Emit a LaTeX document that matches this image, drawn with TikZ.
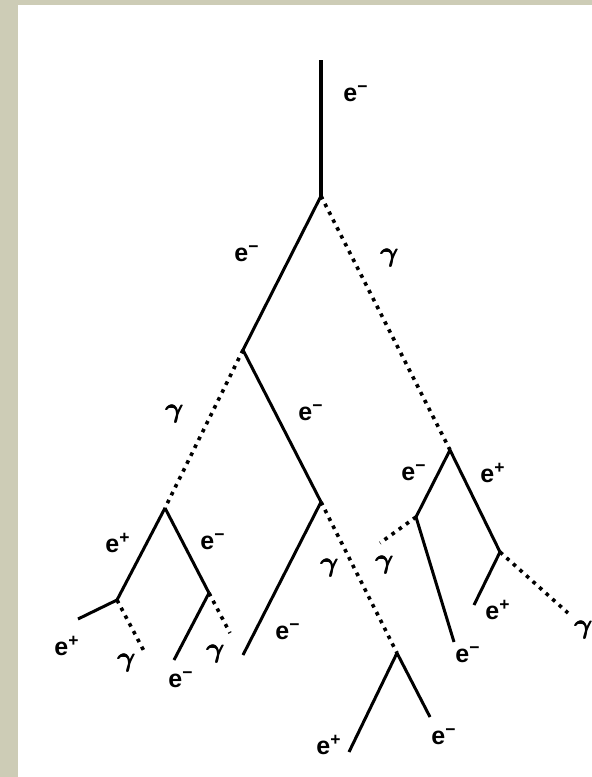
\documentclass[tikz,border=0pt]{standalone}
\usepackage{amsmath,bm}
\usepackage{fontspec}
\setmainfont{Liberation Sans}
\definecolor{frame}{HTML}{CDCCB6}
\newcommand{\gam}{\scalebox{1.15}{$\pmb{\bm{\gamma}}$}}
\begin{document}
\begin{tikzpicture}[
  x=0.5pt,y=-0.5pt,
  primary/.style={line width=2.4pt},
  lepton/.style={line width=1.5pt},
  photon/.style={line width=1.8pt,dash pattern=on 1.8pt off 2.6pt},
  lbl/.style={font=\bfseries\fontsize{12.5}{14}\selectfont,inner sep=0pt}
]
% frame
\fill[frame] (0,0) rectangle (592,777);
\fill[white] (18,5) rectangle (592,777);
\useasboundingbox (0,0) rectangle (592,777);
% vertices
\coordinate (start) at (321,60);
\coordinate (a) at (321,196);
\coordinate (b) at (243,350);
\coordinate (c) at (450,450);
\coordinate (d) at (165,508);
\coordinate (e) at (321,502);
\coordinate (f) at (117,600);
\coordinate (g) at (209,593);
\coordinate (h) at (397,653);
\coordinate (i) at (416,517);
\coordinate (j) at (500,552);
% free ends
\coordinate (fpos) at (78,619);
\coordinate (fgam) at (145,653);
\coordinate (gele) at (174,660);
\coordinate (ggam) at (230,633);
\coordinate (eele) at (243,655);
\coordinate (hpos) at (349,752);
\coordinate (hele) at (430,717);
\coordinate (igam) at (380,543);
\coordinate (iele) at (454,642);
\coordinate (jpos) at (474,605);
\coordinate (jgam) at (568,613);
% tracks
\draw[primary] (start) -- (a);
\draw[lepton] (a) -- (b);
\draw[photon] (a) -- (c);
\draw[photon] (b) -- (d);
\draw[lepton] (b) -- (e);
\draw[lepton] (d) -- (f);
\draw[lepton] (d) -- (g);
\draw[lepton] (f) -- (fpos);
\draw[photon] (f) -- (fgam);
\draw[lepton] (g) -- (gele);
\draw[photon] (g) -- (ggam);
\draw[lepton] (e) -- (eele);
\draw[photon] (e) -- (h);
\draw[lepton] (h) -- (hpos);
\draw[lepton] (h) -- (hele);
\draw[lepton] (c) -- (i);
\draw[lepton] (c) -- (j);
\draw[photon] (i) -- (igam);
\draw[lepton] (i) -- (iele);
\draw[lepton] (j) -- (jpos);
\draw[photon] (j) -- (jgam);
% labels
\node[lbl] (l0) at (356,94) {e\textsuperscript{−}};
\node[lbl] (l1) at (247,254) {e\textsuperscript{−}};
\node[lbl] (l2) at (390,258) {\gam};
\node[lbl] (l3) at (175,414) {\gam};
\node[lbl] (l4) at (311,413) {e\textsuperscript{−}};
\node[lbl] (l5) at (118,543) {e\textsuperscript{+}};
\node[lbl] (l6) at (213,542) {e\textsuperscript{−}};
\node[lbl] (l7) at (67,646) {e\textsuperscript{+}};
\node[lbl] (l8) at (127,663) {\gam};
\node[lbl] (l9) at (181,680) {e\textsuperscript{−}};
\node[lbl] (l10) at (216,654) {\gam};
\node[lbl] (l11) at (288,632) {e\textsuperscript{−}};
\node[lbl] (l12) at (330,568) {\gam};
\node[lbl] (l13) at (329,745) {e\textsuperscript{+}};
\node[lbl] (l14) at (444,737) {e\textsuperscript{−}};
\node[lbl] (l15) at (414,473) {e\textsuperscript{−}};
\node[lbl] (l16) at (493,473) {e\textsuperscript{+}};
\node[lbl] (l17) at (385,565) {\gam};
\node[lbl] (l18) at (468,655) {e\textsuperscript{−}};
\node[lbl] (l19) at (498,610) {e\textsuperscript{+}};
\node[lbl] (l20) at (584,630) {\gam};
\end{tikzpicture}
\end{document}
